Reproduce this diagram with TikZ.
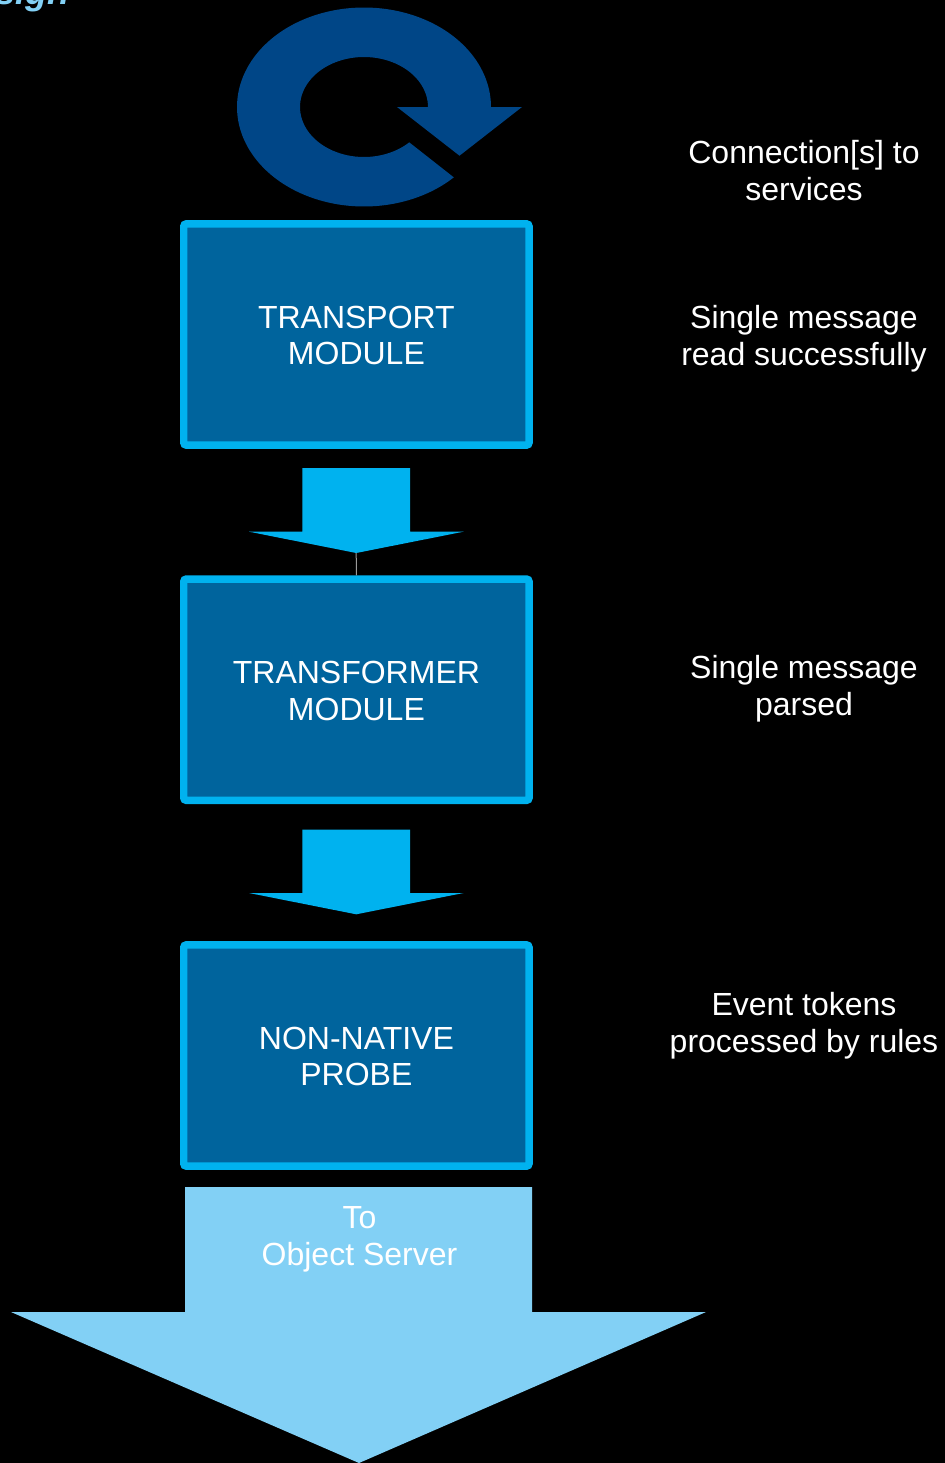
\documentclass[tikz,border=0pt]{standalone}
\usepackage{fontspec}
\setmainfont{Liberation Sans}
\definecolor{ringblue}{HTML}{004687}
\definecolor{boxfill}{HTML}{00649D}
\definecolor{cyanblue}{HTML}{00B2EF}
\definecolor{lightblue}{HTML}{82D0F5}
\definecolor{hairline}{HTML}{9A9A9A}
\newcommand{\boxstrut}{\rule{0pt}{18.2pt}}
\tikzset{
  modulebox/.style={draw=cyanblue,fill=boxfill,line width=5.6pt,rounded corners=2pt,
    minimum width=259pt,minimum height=166pt,align=center,text=white,
    font=\fontsize{24}{27.7}\selectfont,inner sep=0pt},
  sidelabel/.style={align=center,text=white,font=\fontsize{24}{27.7}\selectfont,inner sep=0pt},
  blockarrow/.style={fill=cyanblue,draw=none},
}
\begin{document}
\begin{tikzpicture}[x=0.75pt,y=-0.75pt]
\useasboundingbox (0,0) rectangle (945,1463);
\clip (0,0) rectangle (945,1463);
\fill[black] (0,0) rectangle (945,1463);
\node[anchor=base east,inner sep=0pt,text=lightblue,font=\fontsize{27}{30}\selectfont\bfseries\itshape] (title) at (70,5) {sign};
% ring arrow
\fill[ringblue] plot[smooth,samples=90,domain=45:360] ({364+127*cos(\x)},{107+99.5*sin(\x)})
  -- (522,107) -- (459.5,155.7) -- (397,107) -- (428,107)
  -- plot[smooth,samples=90,domain=360:45] ({364+64*cos(\x)},{107+50*sin(\x)}) -- cycle;
% modules
\node[modulebox] (transport) at (356.4,334.5) {\boxstrut TRANSPORT\\MODULE};
\node[modulebox] (transformer) at (356.4,689.7) {\boxstrut TRANSFORMER\\MODULE};
\node[modulebox] (probe) at (356.4,1055.5) {\boxstrut NON-NATIVE\\PROBE};
% block arrows
\fill[blockarrow] (302.3,468) -- (410,468) -- (410,531.7) -- (463.5,531.7) -- (356.2,553) coordinate (tipA) -- (249,531.7) -- (302.3,531.7) -- cycle;
\fill[blockarrow] (302.3,829.5) -- (410,829.5) -- (410,893) -- (463.5,893) -- (356.2,914.3) -- (249,893) -- (302.3,893) -- cycle;
\fill[lightblue] (185,1187) -- (532,1187) -- (532,1312) -- (706,1312) -- (359,1463) -- (11,1312) -- (185,1312) -- cycle;
\draw[hairline,line width=0.75pt] (tipA) -- (transformer.north);
\node[sidelabel] (toserver) at (359.5,1239.5) {To\\Object Server};
% side labels
\node[sidelabel] (l1) at (804,170.5) {Connection[s] to\\services};
\node[sidelabel] (l2) at (804,338.5) {Single message\\read successfully};
\node[sidelabel] (l3) at (804,688.5) {Single message\\parsed};
\node[sidelabel] (l4) at (804,1025.5) {Event tokens\\processed by rules};
\end{tikzpicture}
\end{document}
